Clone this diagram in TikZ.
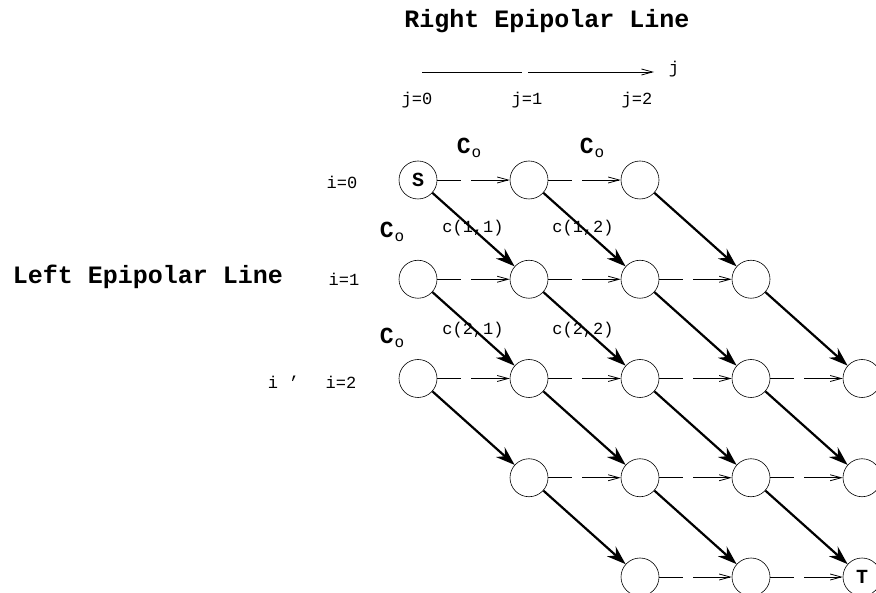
\documentclass[tikz,border=0pt]{standalone}
\usepackage{fontspec}
\setmainfont{Liberation Mono}
\setmonofont{Liberation Mono}
\usetikzlibrary{arrows.meta}
\begin{document}
\begin{tikzpicture}[x=1pt,y=-1pt,
  font=\fontsize{17}{17}\selectfont,
  st/.style={circle,draw,line width=0.6pt,minimum size=38pt,inner sep=0pt,font=\fontsize{20}{20}\selectfont\bfseries},
  diag/.style={line width=2.2pt,-{Stealth[length=19pt,width=13pt,inset=6pt]}},
  hor/.style={line width=0.8pt,dash pattern=on 24pt off 10pt on 100pt off 1pt,-{Straight Barb[length=11pt,width=6pt]}},
  title/.style={inner sep=0pt,font=\fontsize{25}{25}\selectfont\bfseries},
  lab/.style={inner sep=0pt},
  co/.style={inner sep=0pt,font=\fontsize{23}{23}\selectfont\bfseries}
]
\useasboundingbox (0,0) rectangle (876,593);
% titles
\node[title] (rt) at (547,21) {Right Epipolar Line};
\node[title] (lt) at (148,277) {Left Epipolar Line};
% j axis
\coordinate (ja) at (422,72);
\coordinate (jb) at (654,72);
\draw[line width=0.8pt,dash pattern=on 100pt off 6pt on 300pt,-{Straight Barb[length=11pt,width=6pt]}] (ja) -- (jb);
\node[lab] (jl) at (674,69) {j};
\node[lab] (j0) at (417,100) {j=0};
\node[lab] (j1) at (527,100) {j=1};
\node[lab] (j2) at (637,100) {j=2};
% i labels
\node[lab] (i0) at (342,182) {i=0};
\node[lab] (i1) at (344,279) {i=1};
\node[lab] (i2) at (341,382) {i=2};
\node[lab] (ii) at (273,382) {i};
\node[lab] (ic) at (295,379) {,};
% nodes
\node[st] (n00) at (418,180) {S};
\foreach \i/\j in {0/1,0/2,1/0,1/1,1/2,1/3,2/0,2/1,2/2,2/3,2/4,3/1,3/2,3/3,3/4,4/2,4/3}
  \node[st] (n\i\j) at ({418+111*\j},{180+99.25*\i}) {};
\node[st] (n44) at (862,577) {T};
% cost labels
\node[co] (co1) at (469,148) {C\kern1pt\raisebox{-4pt}{\fontsize{16}{16}\selectfont\mdseries o}};
\node[co] (co2) at (592,148) {C\kern1pt\raisebox{-4pt}{\fontsize{16}{16}\selectfont\mdseries o}};
\node[co] (co3) at (392,232) {C\kern1pt\raisebox{-4pt}{\fontsize{16}{16}\selectfont\mdseries o}};
\node[co] (co4) at (392,338) {C\kern1pt\raisebox{-4pt}{\fontsize{16}{16}\selectfont\mdseries o}};
\node[lab] (c11) at (473,228) {c(1,1)};
\node[lab] (c12) at (583,228) {c(1,2)};
\node[lab] (c21) at (473,330) {c(2,1)};
\node[lab] (c22) at (583,330) {c(2,2)};
% horizontal edges
\foreach \a/\b in {00/01,01/02,10/11,11/12,12/13,20/21,21/22,22/23,23/24,31/32,32/33,33/34,42/43,43/44}
  \draw[hor] (n\a) -- (n\b);
% diagonal edges
\foreach \a/\b in {00/11,01/12,02/13,10/21,11/22,12/23,13/24,20/31,21/32,22/33,23/34,31/42,32/43,33/44}
  \draw[diag] (n\a) -- (n\b);
\end{tikzpicture}
\end{document}
